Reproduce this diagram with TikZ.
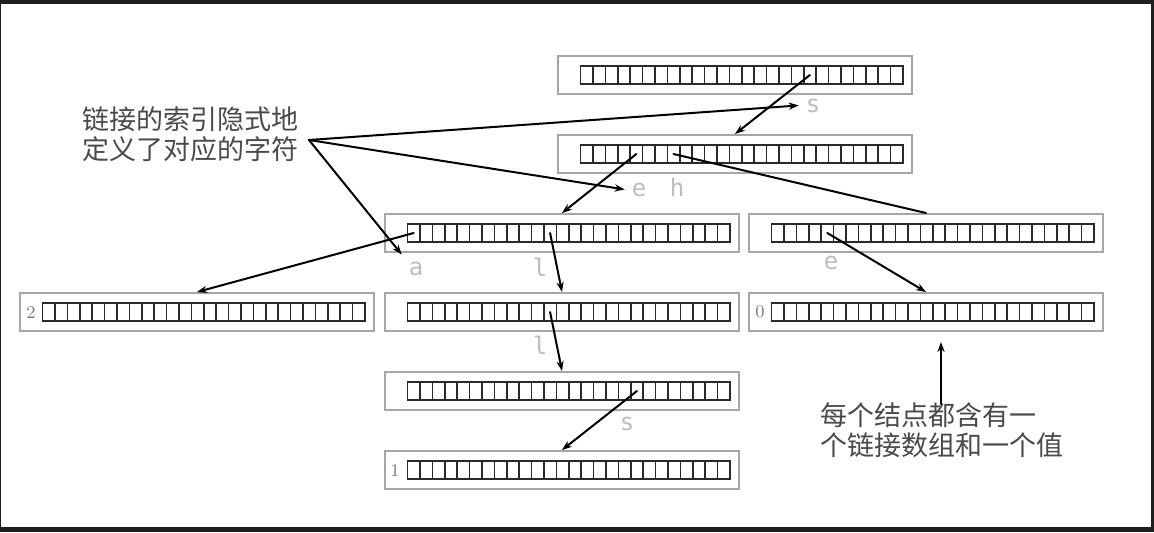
\documentclass[tikz,border=0pt]{standalone}
\usepackage{fontspec}
\usepackage{tikz}
\usetikzlibrary{calc,arrows.meta}
\newfontfamily\cjk{Noto Sans CJK SC}
\newfontfamily\mono{DejaVu Sans Mono}
\definecolor{edge}{HTML}{1E1E1E}
\definecolor{boxgray}{HTML}{A6A6A6}
\definecolor{cellline}{HTML}{2A2A2A}
\definecolor{chargray}{HTML}{BDBDBD}
\definecolor{valgray}{HTML}{7A7A7A}
\definecolor{notegray}{HTML}{4A4A4A}
\tikzset{
  box/.style={draw=boxgray, line width=1pt, minimum width=177pt, minimum height=19pt, inner sep=0pt, anchor=north west},
  cell/.style={draw=cellline, line width=0.8pt},
  link/.style={draw=black, line width=1pt, line cap=round, -{Stealth[length=5pt,width=3.6pt]}},
  plain/.style={draw=black, line width=1pt, line cap=round},
  chr/.style={text=chargray, font=\mono\fontsize{12}{14}\selectfont, anchor=base},
  val/.style={text=valgray, font=\fontsize{9}{10}\selectfont},
  note/.style={text=notegray, font=\cjk\fontsize{13.5}{15}\selectfont, align=left, inner sep=0pt, anchor=north west},
}
% one trie node: name, left, top
\newcommand{\trienode}[3]{%
  \node[box] (#1) at (#2,#3) {};
  \foreach \i in {0,...,25}{
    \draw[cell] ({#2+23.5+\i*12.4},{#3+11}) rectangle ++(12.4,18);
    \coordinate (#1-\i) at ({#2+23.5+(\i+0.5)*12.4},{#3+20});
  }
}

\begin{document}
\begin{tikzpicture}[x=0.5pt,y=-0.5pt]
  \fill[edge] (0,0) rectangle (1154,532);
  \fill[white] (1,4) rectangle (1151,527);

  % trie nodes
  \trienode{root}{557}{55}
  \trienode{s}{557}{134}
  \trienode{se}{384}{213}
  \trienode{sh}{748}{213}
  \trienode{sea}{19}{292}
  \trienode{sel}{384}{292}
  \trienode{she}{748}{292}
  \trienode{sell}{384}{371}
  \trienode{sells}{384}{450}

  % values
  \node[val] (v2) at (31,312) {2};
  \node[val] (v0) at (760,312) {0};
  \node[val] (v1) at (395,470) {1};

  % characters
  \node[chr] (cs) at (813,112) {s};
  \node[chr] (ce) at (639,196) {e};
  \node[chr] (ch) at (677,196) {h};
  \node[chr] (ca) at (416,275) {a};
  \node[chr] (cl) at (540,276) {l};
  \node[chr] (cl2) at (540,354) {l};
  \node[chr] (cs2) at (627,430) {s};
  \node[chr] (ce2) at (831,269) {e};

  % links
  \draw[link] (root-18) -- (s.north);
  \draw[link] (s-4) -- (se.north);
  \draw[plain] (s-7) -- (sh.north);
  \draw[link] (se-0) -- (sea.north);
  \draw[link] (se-11) -- (sel.north);
  \draw[link] (sh-4) -- (she.north);
  \draw[link] (sel-11) -- (sell.north);
  \draw[link] (sell-18) -- (sells.north);

  % notes
  \node[note] (note1) at (82,106) {链接的索引隐式地\\定义了对应的字符};
  \coordinate (apex) at (309,140);
  \draw[link] (apex) -- (cs.west);
  \draw[link] (apex) -- (ce.west);
  \draw[link] (apex) -- (ca.north west);

  \node[note] (note2) at (820,402) {每个结点都含有一\\个链接数组和一个值};
  \coordinate (ptr) at (941,342);
  \draw[link] ([yshift=-1pt]note2.north -| ptr) -- (ptr);
\end{tikzpicture}
\end{document}
